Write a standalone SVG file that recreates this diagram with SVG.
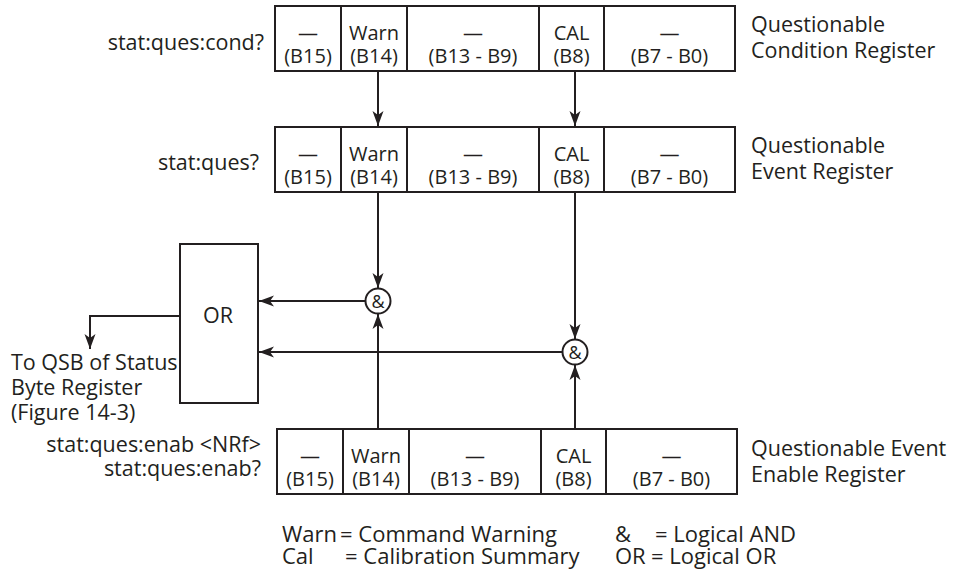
<svg xmlns="http://www.w3.org/2000/svg" width="959" height="570" viewBox="0 0 959 570">
<defs>
<style>
text{font-family:"Open Sans","Noto Sans","DejaVu Sans",sans-serif;fill:#231f20}
.c{font-size:20px;text-anchor:middle}
.l{font-size:21.5px}
.r{font-size:21.5px;text-anchor:end}
.g{font-size:22px}
.box{fill:#fff;stroke:#231f20;stroke-width:2}
.ln{fill:none;stroke:#231f20;stroke-width:2}
</style>
<marker id="ah" markerUnits="userSpaceOnUse" markerWidth="17" markerHeight="12" viewBox="-16 -6 17 12" refX="0" refY="0" orient="auto">
<path d="M0,0 L-15,-5.5 L-11,0 L-15,5.5 Z" fill="#231f20"/>
</marker>
<g id="cells">
<rect class="box" x="0" y="0" width="460" height="65"/>
<line class="ln" x1="66" y1="0" x2="66" y2="65"/>
<line class="ln" x1="132" y1="0" x2="132" y2="65"/>
<line class="ln" x1="264" y1="0" x2="264" y2="65"/>
<line class="ln" x1="329" y1="0" x2="329" y2="65"/>
<text class="c" x="33" y="34">—</text><text class="c" x="33" y="57">(B15)</text>
<text class="c" x="99" y="34">Warn</text><text class="c" x="99" y="57">(B14)</text>
<text class="c" x="198" y="34">—</text><text class="c" x="198" y="57">(B13 - B9)</text>
<text class="c" x="296.5" y="34">CAL</text><text class="c" x="296.5" y="57">(B8)</text>
<text class="c" x="394.5" y="34">—</text><text class="c" x="394.5" y="57">(B7 - B0)</text>
</g>
</defs>

<g id="cond-register">
<use href="#cells" x="275" y="6"/>
<text class="r" x="264" y="50">stat:ques:cond?</text>
<text class="l" x="751" y="32">Questionable</text>
<text class="l" x="751" y="58">Condition Register</text>
</g>

<g id="event-register">
<use href="#cells" x="275" y="127"/>
<text class="r" x="259" y="170">stat:ques?</text>
<text class="l" x="751" y="153">Questionable</text>
<text class="l" x="751" y="179">Event Register</text>
</g>

<g id="enable-register">
<use href="#cells" x="277" y="429"/>
<text class="r" x="261" y="452" font-size="22">stat:ques:enab &lt;NRf&gt;</text>
<text class="r" x="261" y="476" font-size="22">stat:ques:enab?</text>
<text class="l" x="751" y="456">Questionable Event</text>
<text class="l" x="751" y="482">Enable Register</text>
</g>

<g id="or-gate">
<rect class="box" x="180" y="244" width="78" height="159"/>
<text class="l" x="218" y="323" text-anchor="middle">OR</text>
</g>

<g id="and-warn">
<circle class="box" cx="378" cy="301" r="12.5"/>
<text x="378" y="307.5" font-size="18" text-anchor="middle">&amp;</text>
</g>

<g id="and-cal">
<circle class="box" cx="575" cy="352" r="12.5"/>
<text x="575" y="358.5" font-size="18" text-anchor="middle">&amp;</text>
</g>

<g id="output-label">
<text class="l" x="11" y="370">To QSB of Status</text>
<text class="l" x="11" y="395">Byte Register</text>
<text class="l" x="11" y="420">(Figure 14-3)</text>
</g>

<g id="connectors">
<line class="ln" x1="378" y1="71" x2="378" y2="126" marker-end="url(#ah)"/>
<line class="ln" x1="575" y1="71" x2="575" y2="126" marker-end="url(#ah)"/>
<line class="ln" x1="378" y1="192" x2="378" y2="288" marker-end="url(#ah)"/>
<line class="ln" x1="575" y1="192" x2="575" y2="339" marker-end="url(#ah)"/>
<line class="ln" x1="378" y1="429" x2="378" y2="314" marker-end="url(#ah)"/>
<line class="ln" x1="575" y1="429" x2="575" y2="365" marker-end="url(#ah)"/>
<line class="ln" x1="365.5" y1="301" x2="259" y2="301" marker-end="url(#ah)"/>
<line class="ln" x1="562.5" y1="352" x2="259" y2="352" marker-end="url(#ah)"/>
<polyline class="ln" points="180,316 90,316 90,349" marker-end="url(#ah)"/>
</g>

<g id="legend">
<text class="g" x="282" y="542">Warn</text>
<text class="g" x="340" y="542">= Command Warning</text>
<text class="g" x="282" y="564">Cal</text>
<text class="g" x="345" y="564">= Calibration Summary</text>
<text class="g" x="615" y="542">&amp;</text>
<text class="g" x="655" y="542">= Logical AND</text>
<text class="g" x="615" y="564">OR</text>
<text class="g" x="651" y="564">= Logical OR</text>
</g>
</svg>
